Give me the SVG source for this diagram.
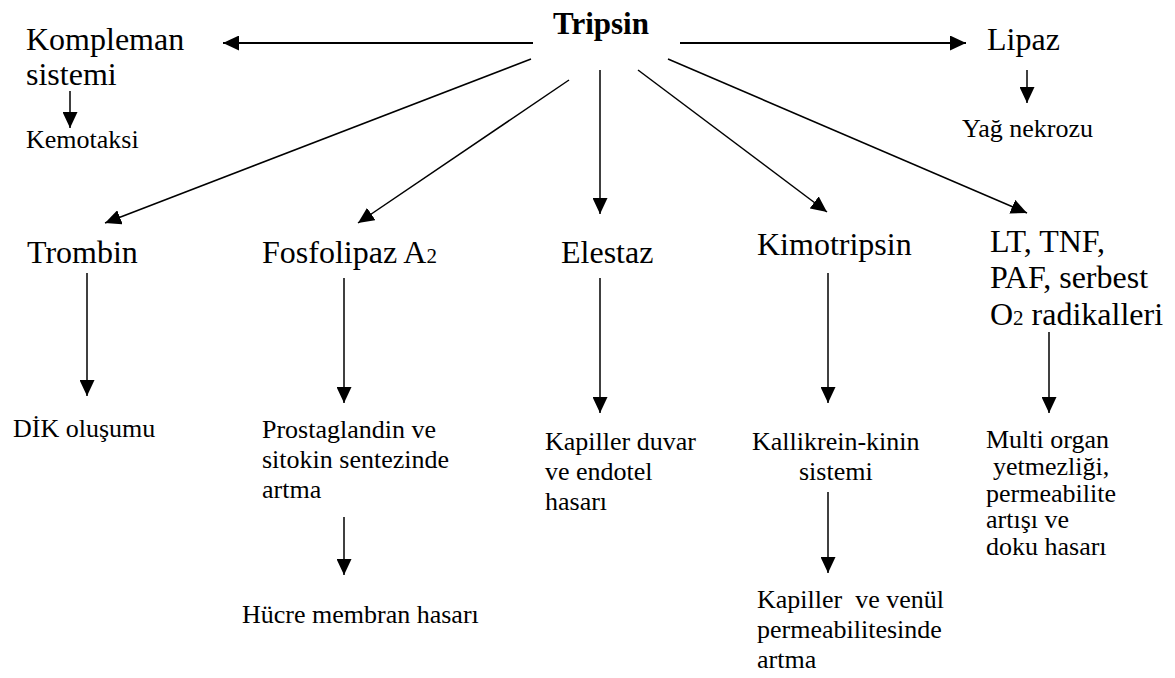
<svg xmlns="http://www.w3.org/2000/svg" width="1175" height="678" viewBox="0 0 1175 678">
<style>
  text { font-family: "Liberation Serif", "Times New Roman", serif; fill: #000; }
  .big { font-size: 32px; }
  .small { font-size: 26px; }
  .bold { font-size: 31px; font-weight: bold; }
  .sub { font-size: 21px; }
  .ln { stroke: #000; stroke-width: 1.5; fill: none; marker-end: url(#ah); }
  .ln2 { stroke: #000; stroke-width: 2; fill: none; marker-end: url(#ah); }
</style>
<defs>
  <marker id="ah" markerUnits="userSpaceOnUse" markerWidth="16" markerHeight="15" refX="16" refY="7.5" orient="auto">
    <path d="M0,0 L16,7.5 L0,15 z" fill="#000"/>
  </marker>
</defs>
<rect width="1175" height="678" fill="#fff"/>

<g id="connectors">
  <line class="ln2" x1="533" y1="43" x2="223" y2="43"/>
  <line class="ln2" x1="680" y1="43" x2="966" y2="43"/>
  <line class="ln" x1="70" y1="91" x2="70" y2="128"/>
  <line class="ln" x1="1027" y1="70" x2="1027" y2="103"/>
  <line class="ln" x1="531" y1="59" x2="105" y2="223"/>
  <line class="ln" x1="569" y1="80" x2="358" y2="223"/>
  <line class="ln" x1="600" y1="70" x2="600" y2="214"/>
  <line class="ln" x1="638" y1="70" x2="827" y2="212"/>
  <line class="ln" x1="668" y1="59" x2="1027" y2="213"/>
  <line class="ln" x1="87" y1="273" x2="87" y2="396"/>
  <line class="ln" x1="344" y1="278" x2="344" y2="403"/>
  <line class="ln" x1="600" y1="278" x2="600" y2="413"/>
  <line class="ln" x1="828" y1="273" x2="828" y2="403"/>
  <line class="ln" x1="1049" y1="332" x2="1049" y2="413"/>
  <line class="ln" x1="344" y1="517" x2="344" y2="575"/>
  <line class="ln" x1="828" y1="492" x2="828" y2="573"/>
</g>

<g id="tripsin"><text class="bold" x="553" y="34">Tripsin</text></g>
<g id="kompleman">
  <text class="big" x="26" y="50">Kompleman</text>
  <text class="big" x="26" y="85">sistemi</text>
</g>
<g id="kemotaksi"><text class="small" x="26" y="148">Kemotaksi</text></g>
<g id="lipaz"><text class="big" x="987" y="50">Lipaz</text></g>
<g id="yag"><text class="small" x="962" y="137">Yağ nekrozu</text></g>

<g id="trombin"><text class="big" x="27" y="263">Trombin</text></g>
<g id="fosfolipaz"><text class="big" x="262" y="263">Fosfolipaz A<tspan class="sub">2</tspan></text></g>
<g id="elestaz"><text class="big" x="561" y="263">Elestaz</text></g>
<g id="kimotripsin"><text class="big" x="757" y="255">Kimotripsin</text></g>
<g id="lt">
  <text class="big" x="990" y="252">LT, TNF,</text>
  <text class="big" x="990" y="288">PAF, serbest</text>
  <text class="big" x="990" y="325">O<tspan class="sub">2</tspan> radikalleri</text>
</g>

<g id="dik"><text class="small" x="13" y="437">DİK oluşumu</text></g>
<g id="prostaglandin">
  <text class="small" x="262" y="438">Prostaglandin ve</text>
  <text class="small" x="262" y="468">sitokin sentezinde</text>
  <text class="small" x="262" y="498">artma</text>
</g>
<g id="hucre"><text class="small" x="242" y="623">Hücre membran hasarı</text></g>
<g id="kapiller">
  <text class="small" x="545" y="450">Kapiller duvar</text>
  <text class="small" x="545" y="480">ve endotel</text>
  <text class="small" x="545" y="510">hasarı</text>
</g>
<g id="kallikrein">
  <text class="small" x="752" y="450">Kallikrein-kinin</text>
  <text class="small" x="799" y="480">sistemi</text>
</g>
<g id="venul">
  <text class="small" x="757" y="608" xml:space="preserve">Kapiller  ve venül</text>
  <text class="small" x="757" y="638">permeabilitesinde</text>
  <text class="small" x="757" y="668">artma</text>
</g>
<g id="multi">
  <text class="small" x="986" y="448">Multi organ</text>
  <text class="small" x="993" y="475">yetmezliği,</text>
  <text class="small" x="986" y="502">permeabilite</text>
  <text class="small" x="986" y="528">artışı ve</text>
  <text class="small" x="986" y="555">doku hasarı</text>
</g>
</svg>
